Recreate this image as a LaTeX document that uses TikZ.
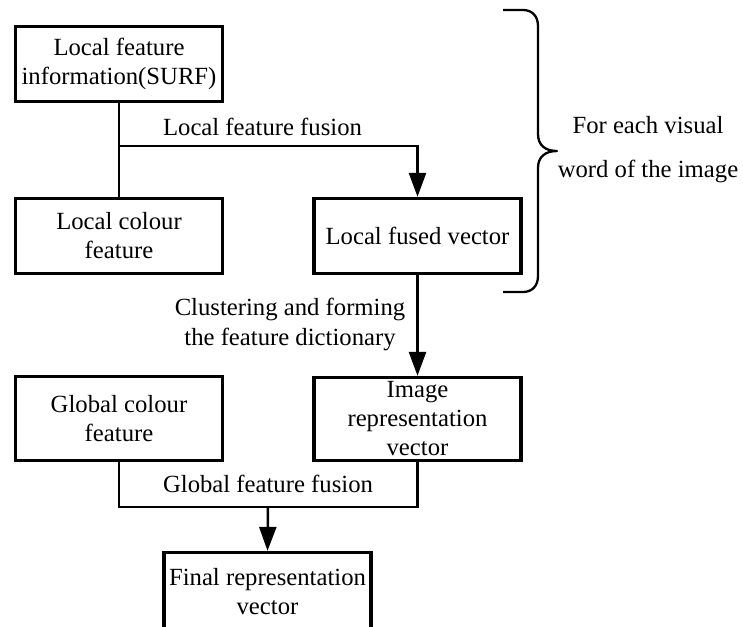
\documentclass[tikz,border=0pt]{standalone}
\usepackage{fontspec}
\setmainfont{Liberation Serif}
\usetikzlibrary{arrows.meta}
\begin{document}
\begin{tikzpicture}[x=1pt,y=-1pt,
 box/.style={draw,line width=3.3pt,minimum width=207pt,inner sep=0pt,align=center,font=\fontsize{24.7}{29}\selectfont},
 conn/.style={line width=2.5pt},
 arr/.style={conn,-{Triangle[length=24pt,width=17pt]}},
 lbl/.style={font=\fontsize{24.7}{30}\selectfont,align=center,inner sep=0pt},
 bracepath/.style={line width=2.3pt,line join=round}]
\useasboundingbox (0,0) rectangle (743,626);
\clip (0,0) rectangle (743,626);
\fill[white] (0,0) rectangle (743,626);

\node[box,minimum height=75pt] (lfi) at (119,64) {Local feature\\information(SURF)};
\node[box,minimum height=75pt] (lcol) at (119,236) {Local colour\\feature};
\node[box,minimum height=75pt] (lfv) at (417.5,236) {Local fused vector};
\node[box,minimum height=84pt] (gcol) at (119,418.5) {Global colour\\feature};
\node[box,minimum height=83pt] (irv) at (417.5,419) {Image\\representation\\vector};
\node[box,minimum height=78pt] (frv) at (267.5,591.5) {Final representation\\vector};

\coordinate (j1) at (119,146);
\coordinate (j2) at (268,507);

\draw[conn] (lfi) -- (lcol);
\draw[arr] (j1) -| (lfv.north);
\draw[arr] (lfv) -- (irv);
\draw[conn] (gcol.south) |- (j2) -| (irv.south);
\draw[arr] (j2) -- (frv.north);

\node[lbl,anchor=base] (l1) at (262.5,135) {Local feature fusion};
\node[lbl] (l2) at (290,324) {Clustering and forming\\the feature dictionary};
\node[lbl,anchor=base] (l3) at (268,492) {Global feature fusion};

\draw[bracepath] (503,10) -- (523,10) .. controls (532,10) and (538,16) .. (538,26)
  -- (538,134) .. controls (538,145) and (545,151) .. (557,151)
  .. controls (545,151) and (538,157) .. (538,168)
  -- (538,276) .. controls (538,286) and (532,292) .. (523,292) -- (503,292);
\node[lbl,font=\fontsize{24.7}{44}\selectfont] (bl) at (648,149.3) {For each visual\\word of the image};
\end{tikzpicture}
\end{document}
